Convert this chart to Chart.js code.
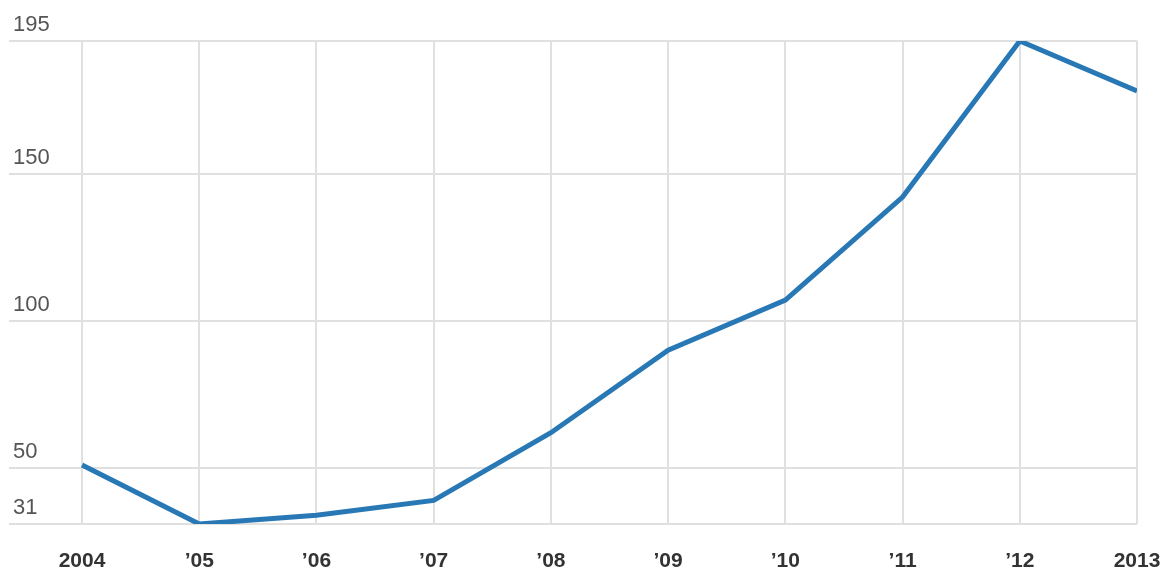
<!DOCTYPE html>
<html>
<head>
<meta charset="utf-8">
<script src="https://cdn.jsdelivr.net/npm/chart.js@4"></script>
<style>
  html, body { margin: 0; padding: 0; background: #fff; }
  #wrap { width: 1164px; height: 572px; }
</style>
</head>
<body>
<div id="wrap"><canvas id="c" width="1164" height="572"></canvas></div>
<script>
// Yearly values, 2004–2013
const years = ['2004', '\u201905', '\u201906', '\u201907', '\u201908', '\u201909', '\u201910', '\u201911', '\u201912', '2013'];
const values = [51, 31, 34, 39, 62, 90, 107, 142, 195, 178];
const yTicks = [31, 50, 100, 150, 195];

const points = values.map((v, i) => ({ x: i, y: v }));

new Chart(document.getElementById('c'), {
  type: 'line',
  data: {
    datasets: [{
      data: points,
      borderColor: '#2878b5',
      borderWidth: 5,
      pointRadius: 0,
      tension: 0,
      fill: false
    }]
  },
  options: {
    responsive: false,
    animation: false,
    layout: { padding: { left: 9, right: 27, top: 41, bottom: 0 } },
    plugins: { legend: { display: false }, tooltip: { enabled: false } },
    scales: {
      x: {
        type: 'linear',
        min: -0.623,
        max: years.length - 1,
        afterBuildTicks: (scale) => { scale.ticks = years.map((_, i) => ({ value: i })); },
        afterFit: (scale) => {
          scale.height = 48;
          scale.paddingLeft = 0;
          scale.paddingRight = 0;
        },
        grid: { color: '#e0e0e0', lineWidth: 2, drawTicks: false },
        border: { display: false },
        ticks: {
          autoSkip: false,
          maxRotation: 0,
          padding: 25,
          color: '#333',
          font: { family: 'Arial, "Liberation Sans", sans-serif', size: 21, weight: 'bold' },
          callback: (v) => years[v]
        }
      },
      y: {
        min: yTicks[0],
        max: yTicks[yTicks.length - 1],
        afterBuildTicks: (scale) => { scale.ticks = yTicks.map(v => ({ value: v })); },
        afterFit: (scale) => { scale.width = 0; scale.paddingTop = 0; scale.paddingBottom = 0; },
        grid: { color: '#e0e0e0', lineWidth: 2, drawTicks: false },
        border: { display: false },
        ticks: {
          mirror: true,
          padding: 4,
          labelOffset: -16,
          color: '#555',
          font: { family: 'Arial, "Liberation Sans", sans-serif', size: 22 }
        }
      }
    }
  }
});
</script>
</body>
</html>
